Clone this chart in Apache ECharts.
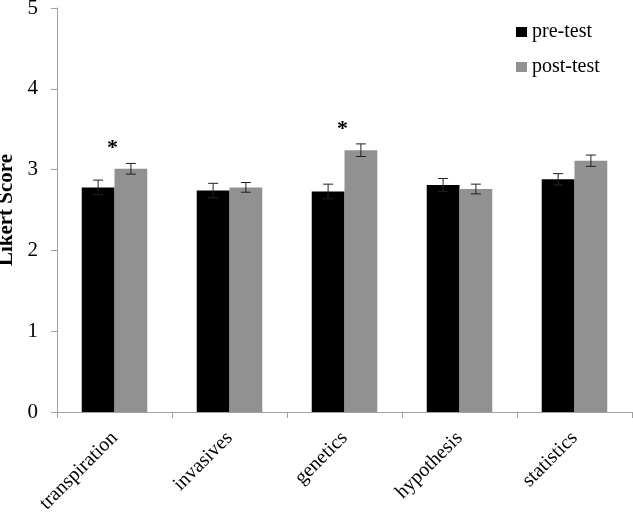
<!DOCTYPE html>
<html>
<head>
<meta charset="utf-8">
<script src="https://cdn.jsdelivr.net/npm/echarts@6/dist/echarts.min.js"></script>
<style>
  html, body { margin: 0; padding: 0; background: #fff; }
  #main { width: 633px; height: 516px; }
</style>
</head>
<body>
<div id="main"></div>
<script>
var categories = ['transpiration', 'invasives', 'genetics', 'hypothesis', 'statistics'];
var preTest = [2.78, 2.74, 2.73, 2.81, 2.88];
var preErr = [0.09, 0.09, 0.09, 0.08, 0.07];
var postTest = [3.01, 2.78, 3.24, 2.76, 3.11];
var postErr = [0.066, 0.06, 0.078, 0.06, 0.07];
var significant = [true, false, true, false, false];
var yTicks = [0, 1, 2, 3, 4, 5];

var gapPct = 43;
var font = '"Liberation Serif", "DejaVu Serif", serif';

function errSeries(vals, errs, side, withStar) {
	return {
		type: 'custom',
		z: 5,
		silent: true,
		data: vals.map(function (v, i) { return [i, v, errs[i]]; }),
		renderItem: function (params, api) {
			var i = api.value(0);
			var band = api.size([1, 0])[0];
			var off = band * (1 - gapPct / 100) / 4 * side;
			var top = api.coord([i, api.value(1) + api.value(2)]);
			var bot = api.coord([i, api.value(1) - api.value(2)]);
			var x = top[0] + off;
			var st = { stroke: '#222', lineWidth: 1 };
			var kids = [
				{ type: 'line', shape: { x1: x, y1: top[1], x2: x, y2: bot[1] }, style: st },
				{ type: 'line', shape: { x1: x - 5, y1: top[1], x2: x + 5, y2: top[1] }, style: st },
				{ type: 'line', shape: { x1: x - 5, y1: bot[1], x2: x + 5, y2: bot[1] }, style: st }
			];
			if (withStar && significant[i]) {
				kids.push({
					type: 'text',
					style: {
						text: '*', x: top[0] - 2, y: top[1] - 4,
						align: 'center', verticalAlign: 'bottom',
						font: 'bold 22px ' + font, fill: '#000'
					}
				});
			}
			return { type: 'group', children: kids };
		}
	};
}

var chart = echarts.init(document.getElementById('main'));
var option = {
	animation: false,
	backgroundColor: '#fff',
	grid: { left: 57, right: 1, top: 8, bottom: 104, containLabel: false, outerBoundsMode: 'none' },
	legend: {
		orient: 'vertical',
		left: 511,
		top: 17,
		itemWidth: 11,
		itemHeight: 10,
		itemGap: 15,
		icon: 'rect',
		textStyle: { fontFamily: font, fontSize: 20, color: '#000' },
		data: ['pre-test', 'post-test']
	},
	xAxis: {
		type: 'category',
		data: categories,
		axisLine: { lineStyle: { color: '#a0a0a0' } },
		axisTick: { show: true, length: 6, lineStyle: { color: '#a0a0a0' } },
		axisLabel: {
			interval: 0, rotate: 45, margin: 23,
			fontFamily: font, fontSize: 20, color: '#000'
		}
	},
	yAxis: {
		type: 'value',
		min: yTicks[0],
		max: yTicks[yTicks.length - 1],
		interval: 1,
		name: 'Likert Score',
		nameLocation: 'middle',
		nameGap: 40,
		nameTextStyle: { fontFamily: font, fontSize: 21, fontWeight: 'bold', color: '#000' },
		axisLine: { show: true, lineStyle: { color: '#a0a0a0' } },
		axisTick: { show: true, length: 6, lineStyle: { color: '#a0a0a0' } },
		splitLine: { show: false },
		axisLabel: { fontFamily: font, fontSize: 21, color: '#000', margin: 19 }
	},
	series: [
		{
			name: 'pre-test', type: 'bar', data: preTest,
			barGap: 0, barCategoryGap: gapPct + '%',
			itemStyle: { color: '#000000' }
		},
		{
			name: 'post-test', type: 'bar', data: postTest,
			barGap: 0, barCategoryGap: gapPct + '%',
			itemStyle: { color: '#919191' }
		},
		errSeries(preTest, preErr, -1, false),
		errSeries(postTest, postErr, 1, true)
	]
};
chart.setOption(option);
</script>
</body>
</html>
